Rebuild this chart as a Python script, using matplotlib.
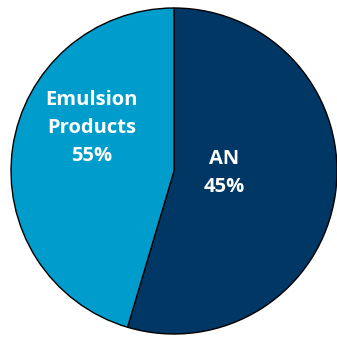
import matplotlib.pyplot as plt

# wedge sizes as drawn (the printed labels differ from the drawn shares)
segments = ['AN', 'Emulsion Products']
shares = [54.6, 45.4]
label_texts = ['AN\n45%', 'Emulsion\nProducts\n55%']
colors = ['#003764', '#009DCC']

plt.rcParams['font.family'] = ['Open Sans', 'DejaVu Sans']

fig = plt.figure(figsize=(3.37, 3.37), dpi=100)
ax = fig.add_axes([0, 0, 1, 1])

ax.pie(shares, colors=colors, startangle=90, counterclock=False,
       radius=1.0, wedgeprops=dict(edgecolor='black', linewidth=1.0))

# pixel-matched limits: centre at (174, 171), radius 163 px
ax.set_xlim(-174 / 163, (337 - 174) / 163)
ax.set_ylim(-(337 - 171) / 163, 171 / 163)
ax.set_aspect('auto')
ax.axis('off')

label_pos = [(0.307, -0.01), (-0.506, 0.265)]
for txt, (x, y) in zip(label_texts, label_pos):
    ax.text(x, y, txt, ha='center', va='center', color='white',
            fontsize=14.5, fontweight='bold', linespacing=1.55)

fig.savefig('out.png', dpi=100)
